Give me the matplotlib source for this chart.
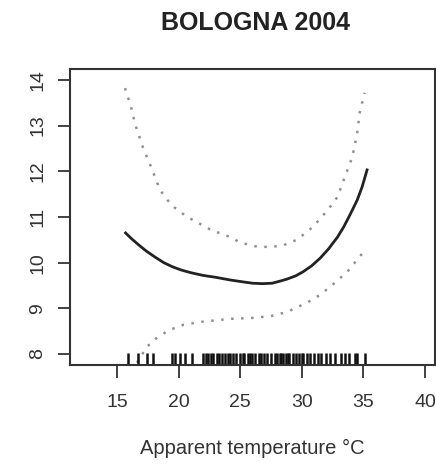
import numpy as np
import matplotlib.pyplot as plt
import matplotlib.transforms as mtransforms

plt.rcParams['font.family'] = ['Liberation Sans', 'DejaVu Sans']

# --- Estimated smooth effect (solid) ---
temp_fit = [15.7, 16.2, 16.8, 17.4, 18.1, 18.8, 19.5, 20.2, 21.0, 22.0, 23.0,
            24.2, 25.2, 26.0, 26.8, 27.6, 28.3, 28.8, 29.5, 30.1, 30.8, 31.5,
            32.2, 32.9, 33.4, 33.9, 34.5, 34.9, 35.3]
fit = [10.65, 10.52, 10.38, 10.25, 10.12, 10.00, 9.91, 9.84, 9.78, 9.72, 9.68,
       9.62, 9.58, 9.55, 9.54, 9.55, 9.60, 9.64, 9.71, 9.80, 9.93, 10.10,
       10.31, 10.56, 10.78, 11.04, 11.37, 11.66, 12.03]

# --- Upper confidence band (dotted) ---
temp_up = [15.65, 16.1, 16.5, 17.1, 17.7, 18.5, 19.1, 19.7, 20.7, 21.2, 22.6,
           24.2, 25.0, 26.2, 27.4, 28.5, 29.6, 30.9, 32.1, 32.9, 33.5, 34.1,
           34.5, 34.7, 35.1]
upper = [13.82, 13.45, 13.01, 12.53, 12.14, 11.59, 11.37, 11.20, 11.00, 10.93,
         10.72, 10.56, 10.44, 10.36, 10.34, 10.38, 10.50, 10.78, 11.15, 11.44,
         11.88, 12.31, 12.84, 13.28, 13.72]

# --- Lower confidence band (dotted) ---
temp_lo = [15.7, 16.6, 17.4, 18.3, 19.3, 20.4, 21.7, 23.1, 24.2, 26.0, 27.5,
           28.8, 30.4, 31.4, 32.3, 33.7, 35.0]
lower = [7.45, 7.80, 8.15, 8.37, 8.53, 8.64, 8.70, 8.74, 8.77, 8.79, 8.83,
         8.92, 9.12, 9.28, 9.47, 9.80, 10.23]

# --- Observed temperatures (rug) ---
rug_temp = [15.9, 16.7, 17.4, 17.9, 19.5, 19.7, 20.1, 20.5, 21.1, 22.0, 22.2,
            22.4, 22.6, 22.8, 23.1, 23.3, 23.5, 23.8, 24.0, 24.2, 24.4, 24.7,
            25.0, 25.2, 25.3, 25.6, 25.8, 26.0, 26.2, 26.5, 26.7, 26.9, 27.2,
            27.5, 27.8, 28.0, 28.2, 28.3, 28.5, 28.7, 28.9, 29.0, 29.3, 29.5,
            29.8, 30.0, 30.1, 30.4, 30.7, 31.0, 31.3, 31.6, 32.0, 32.3, 32.7,
            33.2, 33.5, 33.8, 34.3, 34.5, 35.1]

x_ticks = [15, 20, 25, 30, 35, 40]
y_ticks = [8, 9, 10, 11, 12, 13, 14]

fig = plt.figure(figsize=(4.36, 4.65), dpi=100)
ax = fig.add_axes([0.1606, 0.2151, 0.837, 0.6366])

ax.plot(temp_fit, fit, color='#222222', lw=2)
ax.plot(temp_up, upper, color='#909090', lw=1.8, linestyle=(0, (1, 3)))
ax.plot(temp_lo, lower, color='#909090', lw=1.8, linestyle=(0, (1, 3)))

# rug along bottom
trans = mtransforms.blended_transform_factory(ax.transData, ax.transAxes)
ax.vlines(rug_temp, 0, 0.04, transform=trans, color='#111111', lw=1.8)

ax.set_xlim(11.19, 40.81)
ax.set_ylim(7.76, 14.24)
ax.set_xticks(x_ticks)
ax.set_yticks(y_ticks)
ax.set_yticklabels([str(v) for v in y_ticks], rotation=90, va='center')

for s in ax.spines.values():
    s.set_linewidth(1.5)
    s.set_color('#333333')
ax.tick_params(axis='both', length=9, width=1.3, color='#333333',
               labelsize=14, labelcolor='#333333')
ax.tick_params(axis='x', pad=12)
ax.tick_params(axis='y', pad=8)

ax.set_xlabel('Apparent temperature °C', fontsize=14.5, color='#333333', labelpad=20)
fig.text(0.585, 0.95, 'BOLOGNA 2004', ha='center', va='center',
         fontsize=18, fontweight='bold', color='#222222')

fig.savefig('out.png', dpi=100)
